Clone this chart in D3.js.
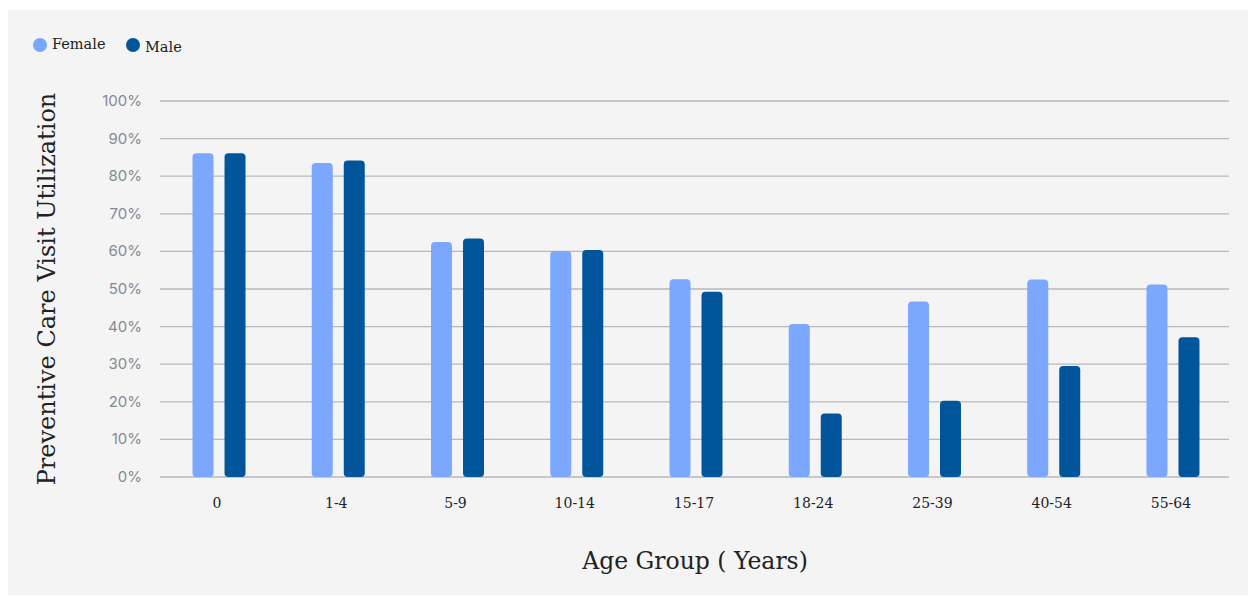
<!DOCTYPE html>
<html>
<head>
<meta charset="utf-8">
<script src="https://cdn.jsdelivr.net/npm/d3@7"></script>
<style>
  body { margin: 0; background: #fff; }
  svg { display: block; }
  .serif { font-family: "DejaVu Serif", serif; fill: #222; }
</style>
</head>
<body>
<svg width="1257" height="597"></svg>
<script>
let ageGroups = ["0", "1-4", "5-9", "10-14", "15-17", "18-24", "25-39", "40-54", "55-64"];
let femaleValues = [86.1, 83.5, 62.5, 60.1, 52.6, 40.7, 46.7, 52.5, 51.2];
let maleValues = [86.1, 84.2, 63.4, 60.4, 49.3, 16.9, 20.3, 29.5, 37.2];
let yTicks = [0, 10, 20, 30, 40, 50, 60, 70, 80, 90, 100];
let seriesNames = ["Female", "Male"];
let seriesColors = ["#7ba7fe", "#00559b"];

let svg = d3.select("svg");

// panel background
svg.append("rect")
    .attr("x", 8).attr("y", 10)
    .attr("width", 1240).attr("height", 585)
    .attr("fill", "#f4f4f4");

let x = d3.scaleBand()
    .domain(ageGroups)
    .range([159.4, 1232.6]);

let y = d3.scaleLinear()
    .domain([0, 100])
    .range([477, 101]);

// gridlines
svg.append("g")
    .selectAll("line")
    .data(yTicks)
    .enter()
    .append("line")
    .attr("x1", 160).attr("x2", 1229)
    .attr("y1", d => y(d)).attr("y2", d => y(d))
    .attr("stroke", "#b6b9c1")
    .attr("stroke-width", 1.3);

// y tick labels
svg.append("g")
    .selectAll("text")
    .data(yTicks)
    .enter()
    .append("text")
    .attr("x", 142)
    .attr("y", d => y(d) + 5)
    .attr("text-anchor", "end")
    .attr("font-family", "Inter, 'Noto Sans', sans-serif")
    .attr("font-size", 15)
    .attr("fill", "#868991")
    .text(d => d + "%");

// bars
let series = [femaleValues, maleValues];
let barW = 21;
let offsets = [-16, 16];
series.forEach(function (vals, si) {
    svg.append("g")
        .selectAll("rect")
        .data(vals)
        .enter()
        .append("rect")
        .attr("x", (d, i) => x(ageGroups[i]) + x.bandwidth() / 2 + offsets[si] - barW / 2)
        .attr("y", d => y(d))
        .attr("width", barW)
        .attr("height", d => y(0) - y(d))
        .attr("rx", 4)
        .attr("fill", seriesColors[si]);
});

// x labels
svg.append("g")
    .selectAll("text")
    .data(ageGroups)
    .enter()
    .append("text")
    .attr("class", "serif")
    .attr("x", d => x(d) + x.bandwidth() / 2 - 2)
    .attr("y", 508)
    .attr("text-anchor", "middle")
    .attr("font-size", 14)
    .text(d => d);

// axis titles
svg.append("text")
    .attr("class", "serif")
    .attr("x", 695).attr("y", 569)
    .attr("text-anchor", "middle")
    .attr("font-size", 23.5)
    .text("Age Group ( Years)");

svg.append("text")
    .attr("class", "serif")
    .attr("transform", "translate(55,289) rotate(-90)")
    .attr("text-anchor", "middle")
    .attr("font-size", 24)
    .text("Preventive Care Visit Utilization");

// legend
let legendX = [40, 133];
let legendY = [49, 52];
seriesNames.forEach(function (name, i) {
    svg.append("circle")
        .attr("cx", legendX[i]).attr("cy", 45)
        .attr("r", 7)
        .attr("fill", seriesColors[i]);
    svg.append("text")
        .attr("class", "serif")
        .attr("x", legendX[i] + 12).attr("y", legendY[i])
        .attr("font-size", 14.5)
        .text(name);
});
</script>
</body>
</html>
